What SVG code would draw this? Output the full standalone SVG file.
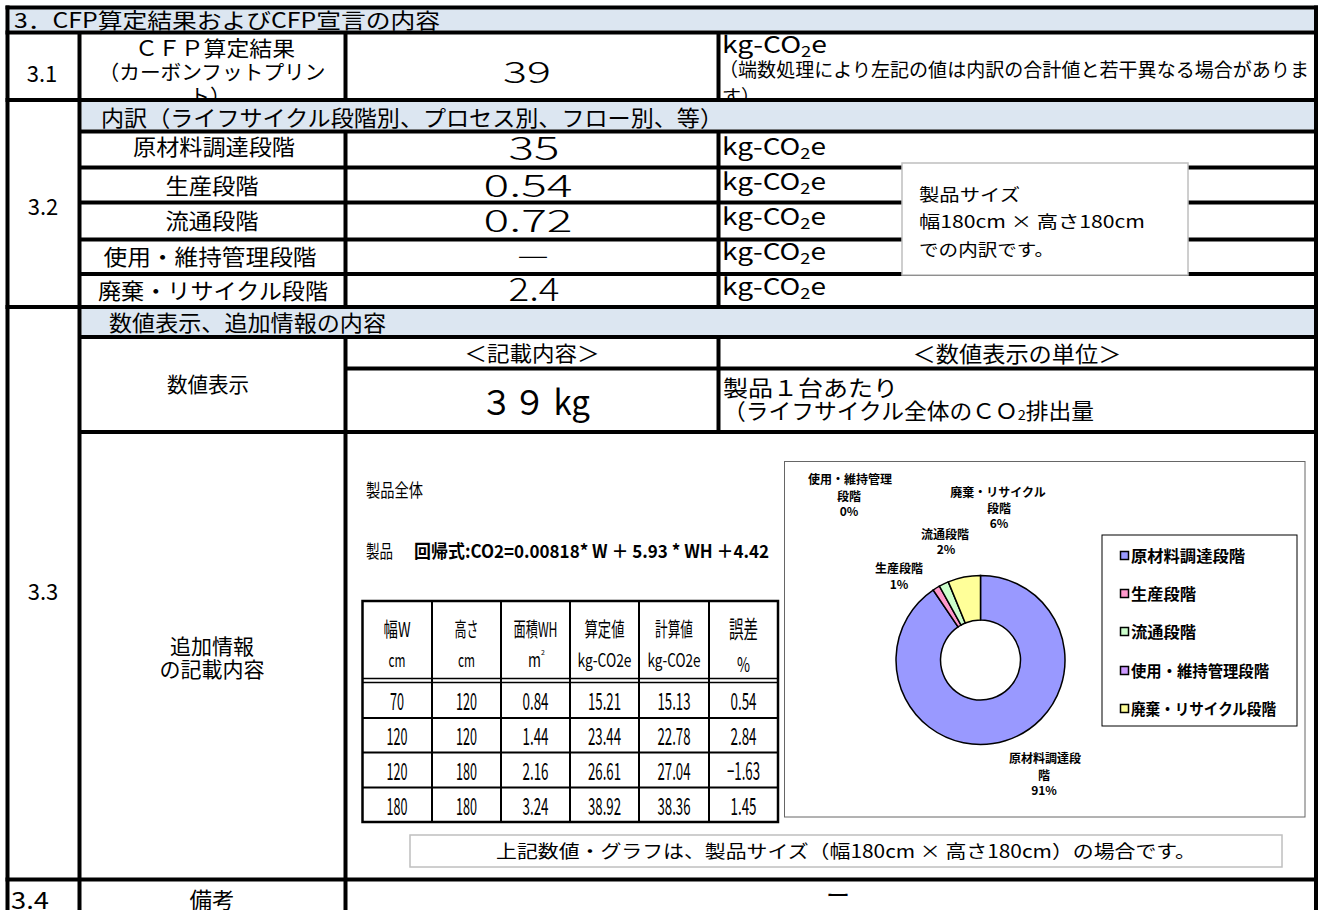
<svg xmlns="http://www.w3.org/2000/svg" width="1321" height="910" viewBox="0 0 1321 910">
<defs>
<style>
.t{font-family:"Noto Sans CJK JP","Noto Sans",sans-serif;fill:#000}
.m{text-anchor:middle}
.band{fill:#dce6f1}
.gl line{stroke:#000;stroke-width:4}
.it line{stroke:#000;stroke-width:2}
.num{font-weight:300}
.cl{font-size:12px;font-weight:bold;text-anchor:middle}
.lg{font-size:15.5px;font-weight:bold}
.seg{stroke:#000;stroke-width:1.5}
.td{font-size:24px;text-anchor:middle}
</style>
<clipPath id="c31"><rect x="81.5" y="34.5" width="262" height="63.5"/></clipPath>
<clipPath id="c31n"><rect x="720.5" y="34.5" width="594" height="63.5"/></clipPath>
<clipPath id="c34"><rect x="0" y="881.5" width="1321" height="28.5"/></clipPath>
</defs>
<rect x="0" y="0" width="1321" height="910" fill="#fff"/>

<g id="bands">
<rect class="band" x="9.5" y="9.5" width="1304.5" height="21"/>
<rect class="band" x="81.5" y="102" width="1232.5" height="27.5"/>
<rect class="band" x="81.5" y="309" width="1232.5" height="26"/>
</g>

<g id="grid" class="gl">
<line x1="5.5" y1="7.5" x2="1318" y2="7.5"/>
<line x1="5.5" y1="32.5" x2="1318" y2="32.5"/>
<line x1="5.5" y1="100" x2="1318" y2="100"/>
<line x1="79.5" y1="131.5" x2="1318" y2="131.5"/>
<line x1="79.5" y1="167.5" x2="1318" y2="167.5"/>
<line x1="79.5" y1="202.5" x2="1318" y2="202.5"/>
<line x1="79.5" y1="239.5" x2="1318" y2="239.5"/>
<line x1="79.5" y1="274" x2="1318" y2="274"/>
<line x1="5.5" y1="307" x2="1318" y2="307"/>
<line x1="79.5" y1="337" x2="1318" y2="337"/>
<line x1="345.5" y1="368.5" x2="1318" y2="368.5"/>
<line x1="79.5" y1="432" x2="1318" y2="432"/>
<line x1="5.5" y1="879.5" x2="1318" y2="879.5"/>
<line x1="7.5" y1="5.5" x2="7.5" y2="910"/>
<line x1="1316" y1="5.5" x2="1316" y2="910"/>
<line x1="79.5" y1="32.5" x2="79.5" y2="910"/>
<line x1="345.5" y1="32.5" x2="345.5" y2="100"/>
<line x1="345.5" y1="131.5" x2="345.5" y2="307"/>
<line x1="345.5" y1="337" x2="345.5" y2="910"/>
<line x1="718.5" y1="32.5" x2="718.5" y2="100"/>
<line x1="718.5" y1="131.5" x2="718.5" y2="307"/>
<line x1="718.5" y1="337" x2="718.5" y2="432"/>
</g>

<g id="title">
<text class="t" x="14" y="28" font-size="21" textLength="426" lengthAdjust="spacingAndGlyphs">3．CFP算定結果およびCFP宣言の内容</text>
</g>

<g id="row31">
<text class="t m" x="42" y="82" font-size="22">3.1</text>
<g clip-path="url(#c31)">
<text class="t m" x="215" y="56" font-size="21" textLength="160" lengthAdjust="spacingAndGlyphs">ＣＦＰ算定結果</text>
<text class="t m" x="212" y="80" font-size="20.5" textLength="227" lengthAdjust="spacingAndGlyphs">（カーボンフットプリン</text>
<text class="t m" x="210" y="104" font-size="20.5">ト）</text>
</g>
<text class="t m num" x="527" y="83" font-size="30" textLength="48" lengthAdjust="spacingAndGlyphs">39</text>
<g clip-path="url(#c31n)">
<text class="t" x="722" y="53" font-size="23" textLength="105" lengthAdjust="spacingAndGlyphs">kg-CO<tspan font-size="15" dy="4">2</tspan><tspan dy="-4">e</tspan></text>
<text class="t" x="719" y="77" font-size="19" textLength="590" lengthAdjust="spacingAndGlyphs">（端数処理により左記の値は内訳の合計値と若干異なる場合がありま</text>
<text class="t" x="722" y="104" font-size="19">す）</text>
</g>
</g>

<g id="row32">
<text class="t" x="101" y="126" font-size="22" textLength="622" lengthAdjust="spacingAndGlyphs">内訳（ライフサイクル段階別、プロセス別、フロー別、等）</text>
<text class="t m" x="43" y="215" font-size="22">3.2</text>
<text class="t m" x="214" y="155" font-size="22" textLength="162" lengthAdjust="spacingAndGlyphs">原材料調達段階</text>
<text class="t m" x="212" y="194" font-size="22" textLength="93" lengthAdjust="spacingAndGlyphs">生産段階</text>
<text class="t m" x="212" y="229" font-size="22" textLength="93" lengthAdjust="spacingAndGlyphs">流通段階</text>
<text class="t m" x="210" y="265" font-size="22" textLength="213" lengthAdjust="spacingAndGlyphs">使用・維持管理段階</text>
<text class="t m" x="213" y="299" font-size="22" textLength="230" lengthAdjust="spacingAndGlyphs">廃棄・リサイクル段階</text>
<text class="t m num" x="534" y="160" font-size="32" textLength="51" lengthAdjust="spacingAndGlyphs">35</text>
<text class="t m num" x="528" y="197" font-size="31" textLength="89" lengthAdjust="spacingAndGlyphs">0.54</text>
<text class="t m num" x="528" y="232" font-size="31" textLength="89" lengthAdjust="spacingAndGlyphs">0.72</text>
<text class="t m num" x="533" y="266" font-size="31" textLength="31" lengthAdjust="spacingAndGlyphs">—</text>
<text class="t m num" x="534" y="301" font-size="32" textLength="51" lengthAdjust="spacingAndGlyphs">2.4</text>
<text class="t" x="722" y="155" font-size="23" textLength="104" lengthAdjust="spacingAndGlyphs">kg-CO<tspan font-size="15" dy="4">2</tspan><tspan dy="-4">e</tspan></text>
<text class="t" x="722" y="190" font-size="23" textLength="104" lengthAdjust="spacingAndGlyphs">kg-CO<tspan font-size="15" dy="4">2</tspan><tspan dy="-4">e</tspan></text>
<text class="t" x="722" y="225" font-size="23" textLength="104" lengthAdjust="spacingAndGlyphs">kg-CO<tspan font-size="15" dy="4">2</tspan><tspan dy="-4">e</tspan></text>
<text class="t" x="722" y="260" font-size="23" textLength="104" lengthAdjust="spacingAndGlyphs">kg-CO<tspan font-size="15" dy="4">2</tspan><tspan dy="-4">e</tspan></text>
<text class="t" x="722" y="295" font-size="23" textLength="104" lengthAdjust="spacingAndGlyphs">kg-CO<tspan font-size="15" dy="4">2</tspan><tspan dy="-4">e</tspan></text>
</g>

<g id="callout">
<rect x="902" y="163" width="286" height="112" fill="#fff" stroke="#bfbfbf" stroke-width="1.5"/>
<text class="t" x="919" y="201" font-size="17" textLength="101" lengthAdjust="spacingAndGlyphs">製品サイズ</text>
<text class="t" x="919" y="228" font-size="17" textLength="226" lengthAdjust="spacingAndGlyphs">幅180cm × 高さ180cm</text>
<text class="t" x="919" y="256" font-size="17" textLength="135" lengthAdjust="spacingAndGlyphs">での内訳です。</text>
</g>

<g id="row33">
<text class="t" x="109" y="331" font-size="22" textLength="277" lengthAdjust="spacingAndGlyphs">数値表示、追加情報の内容</text>
<text class="t m" x="43" y="600" font-size="22">3.3</text>
<text class="t m" x="208" y="392" font-size="21" textLength="82" lengthAdjust="spacingAndGlyphs">数値表示</text>
<text class="t m" x="532" y="361" font-size="21" textLength="135" lengthAdjust="spacingAndGlyphs">＜記載内容＞</text>
<text class="t m" x="1017" y="362" font-size="22" textLength="209" lengthAdjust="spacingAndGlyphs">＜数値表示の単位＞</text>
<text class="t m" x="535" y="415" font-size="34" textLength="110" lengthAdjust="spacingAndGlyphs">３９ kg</text>
<text class="t" x="723" y="396" font-size="22" textLength="175" lengthAdjust="spacingAndGlyphs">製品１台あたり</text>
<text class="t" x="723" y="419" font-size="22" textLength="371" lengthAdjust="spacingAndGlyphs">（ライフサイクル全体のＣＯ<tspan font-size="14" dy="1">2</tspan><tspan dy="-1">排出量</tspan></text>
<text class="t m" x="212" y="654" font-size="21" textLength="84" lengthAdjust="spacingAndGlyphs">追加情報</text>
<text class="t m" x="212" y="677" font-size="21" textLength="105" lengthAdjust="spacingAndGlyphs">の記載内容</text>
</g>

<g id="regression">
<text class="t" x="366" y="497" font-size="18" textLength="57" lengthAdjust="spacingAndGlyphs">製品全体</text>
<text class="t" x="366" y="558" font-size="18" textLength="27" lengthAdjust="spacingAndGlyphs">製品</text>
<text class="t" x="414" y="558" font-size="18" font-weight="bold" textLength="355" lengthAdjust="spacingAndGlyphs">回帰式:CO2=0.00818* W ＋ 5.93 * WH ＋4.42</text>
</g>

<g id="sizetable">
<g class="it">
<rect x="362.5" y="601" width="415.5" height="221" fill="none" stroke="#000" stroke-width="2.5"/>
<line x1="432" y1="601" x2="432" y2="822"/>
<line x1="501" y1="601" x2="501" y2="822"/>
<line x1="570" y1="601" x2="570" y2="822"/>
<line x1="639" y1="601" x2="639" y2="822"/>
<line x1="709" y1="601" x2="709" y2="822"/>
<line x1="362.5" y1="678.5" x2="778" y2="678.5" style="stroke-width:1.5"/>
<line x1="362.5" y1="682.5" x2="778" y2="682.5" style="stroke-width:1.5"/>
<line x1="362.5" y1="718" x2="778" y2="718"/>
<line x1="362.5" y1="752.5" x2="778" y2="752.5"/>
<line x1="362.5" y1="787.5" x2="778" y2="787.5"/>
</g>
<text class="t m" x="397" y="637" font-size="20" textLength="27" lengthAdjust="spacingAndGlyphs">幅W</text>
<text class="t m" x="466.5" y="637" font-size="20" textLength="24" lengthAdjust="spacingAndGlyphs">高さ</text>
<text class="t m" x="535.5" y="637" font-size="20" textLength="44" lengthAdjust="spacingAndGlyphs">面積WH</text>
<text class="t m" x="604.5" y="637" font-size="20" textLength="40" lengthAdjust="spacingAndGlyphs">算定値</text>
<text class="t m" x="674" y="637" font-size="20" textLength="38" lengthAdjust="spacingAndGlyphs">計算値</text>
<text class="t m" x="743.5" y="638" font-size="24" textLength="29" lengthAdjust="spacingAndGlyphs">誤差</text>
<text class="t m" x="397" y="667" font-size="18" textLength="17" lengthAdjust="spacingAndGlyphs">cm</text>
<text class="t m" x="466.5" y="667" font-size="18" textLength="17" lengthAdjust="spacingAndGlyphs">cm</text>
<text class="t" x="528" y="667" font-size="20" textLength="13" lengthAdjust="spacingAndGlyphs">m</text>
<text class="t" x="541" y="655" font-size="7">2</text>
<text class="t m" x="604.5" y="667" font-size="18" textLength="54" lengthAdjust="spacingAndGlyphs">kg-CO2e</text>
<text class="t m" x="674" y="667" font-size="18" textLength="53" lengthAdjust="spacingAndGlyphs">kg-CO2e</text>
<text class="t m" x="743.5" y="672" font-size="20" textLength="13" lengthAdjust="spacingAndGlyphs">%</text>

<text class="t td" x="397" y="710" textLength="14" lengthAdjust="spacingAndGlyphs">70</text>
<text class="t td" x="466.5" y="710" textLength="21" lengthAdjust="spacingAndGlyphs">120</text>
<text class="t td" x="535.5" y="710" textLength="26" lengthAdjust="spacingAndGlyphs">0.84</text>
<text class="t td" x="604.5" y="710" textLength="33" lengthAdjust="spacingAndGlyphs">15.21</text>
<text class="t td" x="674" y="710" textLength="33" lengthAdjust="spacingAndGlyphs">15.13</text>
<text class="t td" x="743.5" y="710" textLength="26" lengthAdjust="spacingAndGlyphs">0.54</text>

<text class="t td" x="397" y="745" textLength="21" lengthAdjust="spacingAndGlyphs">120</text>
<text class="t td" x="466.5" y="745" textLength="21" lengthAdjust="spacingAndGlyphs">120</text>
<text class="t td" x="535.5" y="745" textLength="26" lengthAdjust="spacingAndGlyphs">1.44</text>
<text class="t td" x="604.5" y="745" textLength="33" lengthAdjust="spacingAndGlyphs">23.44</text>
<text class="t td" x="674" y="745" textLength="33" lengthAdjust="spacingAndGlyphs">22.78</text>
<text class="t td" x="743.5" y="745" textLength="26" lengthAdjust="spacingAndGlyphs">2.84</text>

<text class="t td" x="397" y="780" textLength="21" lengthAdjust="spacingAndGlyphs">120</text>
<text class="t td" x="466.5" y="780" textLength="21" lengthAdjust="spacingAndGlyphs">180</text>
<text class="t td" x="535.5" y="780" textLength="26" lengthAdjust="spacingAndGlyphs">2.16</text>
<text class="t td" x="604.5" y="780" textLength="33" lengthAdjust="spacingAndGlyphs">26.61</text>
<text class="t td" x="674" y="780" textLength="33" lengthAdjust="spacingAndGlyphs">27.04</text>
<text class="t td" x="743.5" y="780" textLength="33" lengthAdjust="spacingAndGlyphs">−1.63</text>

<text class="t td" x="397" y="815" textLength="21" lengthAdjust="spacingAndGlyphs">180</text>
<text class="t td" x="466.5" y="815" textLength="21" lengthAdjust="spacingAndGlyphs">180</text>
<text class="t td" x="535.5" y="815" textLength="26" lengthAdjust="spacingAndGlyphs">3.24</text>
<text class="t td" x="604.5" y="815" textLength="33" lengthAdjust="spacingAndGlyphs">38.92</text>
<text class="t td" x="674" y="815" textLength="33" lengthAdjust="spacingAndGlyphs">38.36</text>
<text class="t td" x="743.5" y="815" textLength="26" lengthAdjust="spacingAndGlyphs">1.45</text>
</g>

<g id="chart">
<rect x="784.5" y="461.5" width="520.5" height="355.5" fill="#fff" stroke="#666" stroke-width="1"/>
<path class="seg" fill="#9999ff" d="M980.5 575.5 A84.5 84.5 0 1 1 933.13 590.03 L958.08 626.88 A40 40 0 1 0 980.5 620 Z"/>
<path class="seg" fill="#ff99cc" d="M933.13 590.03 A84.5 84.5 0 0 1 939.41 586.16 L961.05 625.05 A40 40 0 0 0 958.08 626.88 Z"/>
<path class="seg" fill="#ccffcc" d="M939.41 586.16 A84.5 84.5 0 0 1 948.3 581.88 L965.26 623.02 A40 40 0 0 0 961.05 625.05 Z"/>
<path class="seg" fill="#ffff99" d="M948.3 581.88 A84.5 84.5 0 0 1 980.5 575.5 L980.5 620 A40 40 0 0 0 965.26 623.02 Z"/>
<text class="t cl" x="850" y="484">使用・維持管理</text>
<text class="t cl" x="849" y="501">段階</text>
<text class="t cl" x="849" y="516">0%</text>
<text class="t cl" x="998" y="497">廃棄・リサイクル</text>
<text class="t cl" x="999" y="513">段階</text>
<text class="t cl" x="999" y="528">6%</text>
<text class="t cl" x="945" y="539">流通段階</text>
<text class="t cl" x="946" y="554">2%</text>
<text class="t cl" x="899" y="573">生産段階</text>
<text class="t cl" x="899" y="589">1%</text>
<text class="t cl" x="1045" y="763">原材料調達段</text>
<text class="t cl" x="1044" y="780">階</text>
<text class="t cl" x="1044" y="795">91%</text>
<rect x="1102" y="535" width="195" height="191" fill="#fff" stroke="#000" stroke-width="1"/>
<rect x="1120.5" y="551.5" width="8" height="8" fill="#9999ff" stroke="#000" stroke-width="1.5"/>
<rect x="1120.5" y="589.5" width="8" height="8" fill="#ff99cc" stroke="#000" stroke-width="1.5"/>
<rect x="1120.5" y="627.5" width="8" height="8" fill="#ccffcc" stroke="#000" stroke-width="1.5"/>
<rect x="1120.5" y="666.5" width="8" height="8" fill="#cc99ff" stroke="#000" stroke-width="1.5"/>
<rect x="1120.5" y="704.5" width="8" height="8" fill="#ffff99" stroke="#000" stroke-width="1.5"/>
<text class="t lg" x="1131" y="562" textLength="114" lengthAdjust="spacingAndGlyphs">原材料調達段階</text>
<text class="t lg" x="1131" y="600" textLength="65" lengthAdjust="spacingAndGlyphs">生産段階</text>
<text class="t lg" x="1131" y="638" textLength="65" lengthAdjust="spacingAndGlyphs">流通段階</text>
<text class="t lg" x="1131" y="677" textLength="138" lengthAdjust="spacingAndGlyphs">使用・維持管理段階</text>
<text class="t lg" x="1131" y="715" textLength="145" lengthAdjust="spacingAndGlyphs">廃棄・リサイクル段階</text>
</g>

<g id="caption">
<rect x="410" y="835" width="872" height="32" fill="#fff" stroke="#bfbfbf" stroke-width="1.5"/>
<text class="t m" x="846" y="858" font-size="18" textLength="700" lengthAdjust="spacingAndGlyphs">上記数値・グラフは、製品サイズ（幅180cm × 高さ180cm）の場合です。</text>
</g>

<g id="row34" clip-path="url(#c34)">
<text class="t" x="11" y="909" font-size="23" textLength="38" lengthAdjust="spacingAndGlyphs">3.4</text>
<text class="t m" x="212" y="908" font-size="22" textLength="45" lengthAdjust="spacingAndGlyphs">備考</text>
<text class="t m" x="838" y="904" font-size="24" textLength="24" lengthAdjust="spacingAndGlyphs">ー</text>
</g>
</svg>
